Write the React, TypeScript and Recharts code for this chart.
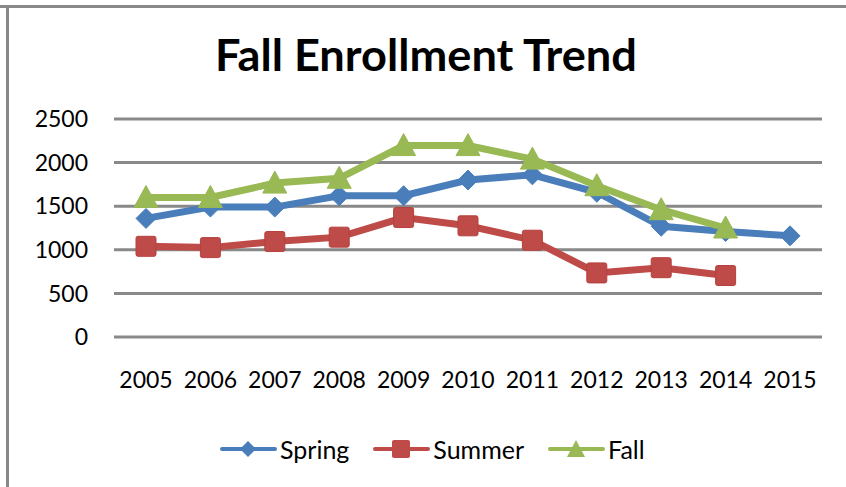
import React from "react";
import { LineChart, Line, XAxis, YAxis, CartesianGrid } from "recharts";

const years = ["2005", "2006", "2007", "2008", "2009", "2010", "2011", "2012", "2013", "2014", "2015"];
const spring = [1360, 1490, 1490, 1620, 1620, 1800, 1860, 1660, 1270, 1210, 1160];
const summer = [1040, 1025, 1095, 1145, 1370, 1275, 1110, 735, 795, 705, null];
const fall = [1600, 1600, 1765, 1820, 2195, 2195, 2040, 1735, 1460, 1250, null];
const yTicks = [0, 500, 1000, 1500, 2000, 2500];

const BLUE = "#4A7EBB";
const RED = "#BE4B48";
const GREEN = "#98B954";
const GRID = "#898989";
const FONT = "Lato, 'Open Sans', sans-serif";

const data = years.map((y, i) => ({ year: y, Spring: spring[i], Summer: summer[i], Fall: fall[i] }));

const DiamondDot = (props: any) => {
  const { cx, cy, index } = props;
  if (cx == null || cy == null || props.value == null) return <g key={"d" + index} />;
  const r = 10;
  return (
    <polygon key={"d" + index} points={`${cx},${cy - r} ${cx + r},${cy} ${cx},${cy + r} ${cx - r},${cy}`} fill={BLUE} stroke={BLUE} strokeWidth={1} strokeLinejoin="round" />
  );
};
const SquareDot = (props: any) => {
  const { cx, cy, index } = props;
  if (cx == null || cy == null || props.value == null) return <g key={"s" + index} />;
  const s = 20;
  return <rect key={"s" + index} x={cx - s / 2} y={cy - s / 2} width={s} height={s} rx={2} fill={RED} stroke="#B5413E" strokeWidth={1} />;
};
const TriangleDot = (props: any) => {
  const { cx, cy, index } = props;
  if (cx == null || cy == null || props.value == null) return <g key={"t" + index} />;
  const w = 12, h = 12;
  return (
    <polygon key={"t" + index} points={`${cx},${cy - h} ${cx + w},${cy + h - 2} ${cx - w},${cy + h - 2}`} fill={GREEN} stroke={GREEN} strokeWidth={1} strokeLinejoin="round" />
  );
};

const LegendIcon = ({ kind, color }: { kind: string; color: string }) => (
  <svg width={57} height={24} style={{ display: "block" }}>
    <line x1={2} y1={12} x2={55} y2={12} stroke={color} strokeWidth={4} strokeLinecap="round" />
    {kind === "diamond" && <polygon points="28,4 36,12 28,20 20,12" fill={color} />}
    {kind === "square" && <rect x={19} y={3} width={18} height={18} rx={2} fill={color} />}
    {kind === "triangle" && <polygon points="28,3 37,20 19,20" fill={color} />}
  </svg>
);

const legendItems = [
  { name: "Spring", kind: "diamond", color: BLUE },
  { name: "Summer", kind: "square", color: RED },
  { name: "Fall", kind: "triangle", color: GREEN },
];

export default function App() {
  return (
    <div style={{ position: "absolute", left: 0, top: 0, width: 846, height: 487, background: "#fff", overflow: "hidden" }}>
      <div style={{ position: "absolute", left: 0, top: 5, width: 846, height: 3, background: GRID }} />
      <div style={{ position: "absolute", left: 6, top: 5, width: 3, height: 482, background: GRID }} />
      <svg width={846} height={90} style={{ position: "absolute", left: 0, top: 0 }}>
        <text x={426} y={71} textAnchor="middle" fontFamily={FONT} fontWeight={700} fontSize={44} fill="#000" textLength={422} lengthAdjust="spacingAndGlyphs">
          Fall Enrollment Trend
        </text>
      </svg>
      <div style={{ position: "absolute", left: 0, top: 0 }}>
        <LineChart width={846} height={487} data={data} margin={{ top: 119, right: 24, bottom: 110, left: 0 }}>
          <CartesianGrid vertical={false} stroke={GRID} strokeWidth={3} />
          <XAxis
            dataKey="year"
            height={40}
            axisLine={false}
            tickLine={false}
            tickSize={0}
            tickMargin={35}
            padding={{ left: 32, right: 32 }}
            interval={0}
            tick={{ fill: "#000", fontSize: 23, fontFamily: FONT }}
          />
          <YAxis
            width={114}
            domain={[0, 2500]}
            ticks={yTicks}
            axisLine={false}
            tickLine={false}
            tickSize={0}
            tickMargin={26}
            tick={{ fill: "#000", fontSize: 23, fontFamily: FONT }}
          />
          <Line dataKey="Spring" stroke={BLUE} strokeWidth={7} dot={DiamondDot} activeDot={false} isAnimationActive={false} />
          <Line dataKey="Summer" stroke={RED} strokeWidth={7} dot={SquareDot} activeDot={false} isAnimationActive={false} />
          <Line dataKey="Fall" stroke={GREEN} strokeWidth={7} dot={TriangleDot} activeDot={false} isAnimationActive={false} />
        </LineChart>
      </div>
      <div style={{ position: "absolute", left: 220, top: 437, display: "flex", alignItems: "center", fontFamily: FONT, fontSize: 25, color: "#000" }}>
        {legendItems.map((it) => (
          <div key={it.name} style={{ display: "flex", alignItems: "center", marginRight: 24 }}>
            <LegendIcon kind={it.kind} color={it.color} />
            <span style={{ marginLeft: 3, lineHeight: "24px" }}>{it.name}</span>
          </div>
        ))}
      </div>
    </div>
  );
}
